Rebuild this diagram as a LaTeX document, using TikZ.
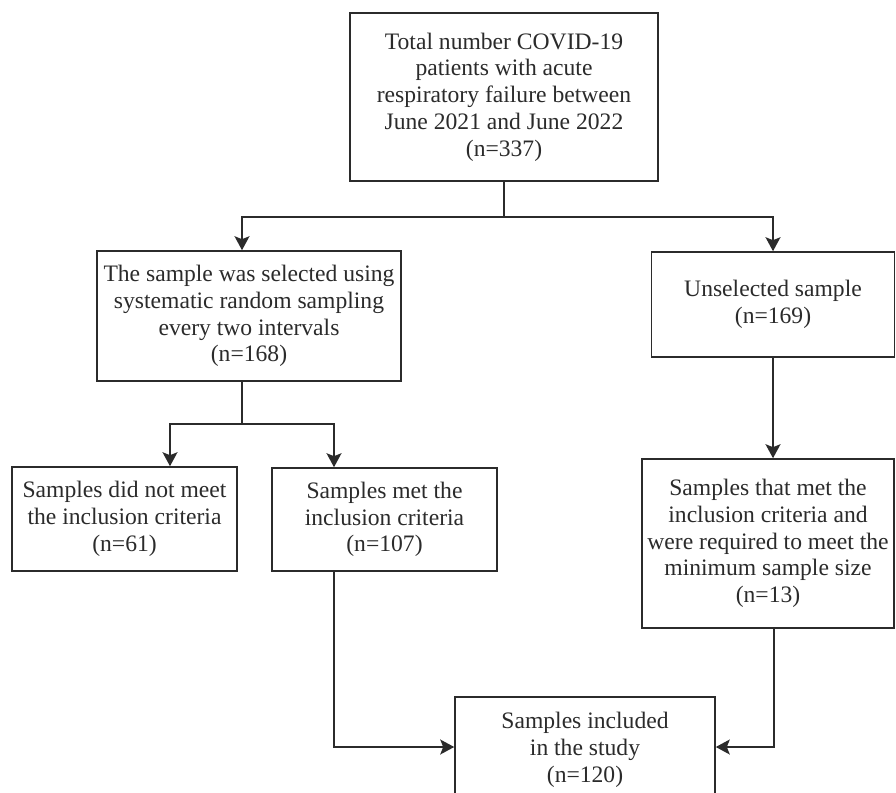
\documentclass[tikz,border=0pt]{standalone}
\usepackage{fontspec}
\setmainfont{Liberation Serif}
\usetikzlibrary{arrows.meta,calc}
\definecolor{ink}{HTML}{2B2B2B}
\begin{document}
\begin{tikzpicture}[x=1pt,y=1pt,
  box/.style={draw=ink,line width=1.6pt,fill=white,align=center,inner sep=2pt,text=ink,
    font=\fontsize{23.6}{26.8}\selectfont},
  arr/.style={draw=ink,line width=1.5pt,-{Stealth[length=14pt,width=15pt,inset=3pt]}},
  ln/.style={draw=ink,line width=1.5pt}]
\useasboundingbox (0,0) rectangle (896,-792);
\node[box,minimum width=308pt,minimum height=168pt] (top) at (504,-97)
  {Total number COVID-19\\patients with acute\\respiratory failure between\\June 2021 and June 2022\\(n=337)};
\node[box,minimum width=304pt,minimum height=130pt] (sel) at (249,-316)
  {The sample was selected using\\systematic random sampling\\every two intervals\\(n=168)};
\node[box,minimum width=243pt,minimum height=105pt] (unsel) at (773,-304.5)
  {Unselected sample\\(n=169)};
\node[box,minimum width=225pt,minimum height=104pt] (notmeet) at (124.5,-519)
  {Samples did not meet\\the inclusion criteria\\(n=61)};
\node[box,minimum width=225pt,minimum height=103pt] (met) at (384.5,-519.5)
  {Samples met the\\inclusion criteria\\(n=107)};
\node[box,minimum width=252pt,minimum height=169pt] (mins) at (768,-543.5)
  {Samples that met the\\inclusion criteria and\\were required to meet the\\minimum sample size\\(n=13)};
\node[box,minimum width=260pt,minimum height=106pt] (incl) at (585,-750)
  {Samples included\\in the study\\(n=120)};
% connectors
\coordinate (split1) at ($(top.south)+(0,-35)$);
\draw[ln] (top.south) -- (split1);
\draw[arr] (split1) -| ([xshift=-7pt]sel.north);
\draw[arr] (split1) -| (unsel.north);
\coordinate (split2) at ($([xshift=-7pt]sel.south)+(0,-42)$);
\draw[ln] ([xshift=-7pt]sel.south) -- (split2);
\draw[arr] (split2) -| ([xshift=45.5pt]notmeet.north);
\draw[arr] (split2) -| ([xshift=-50.5pt]met.north);
\draw[arr] ([xshift=-50.5pt]met.south) |- ([yshift=3pt]incl.west);
\draw[arr] (unsel.south) -- (unsel.south |- mins.north);
\draw[arr] ([xshift=6pt]mins.south) |- ([yshift=3pt]incl.east);
\end{tikzpicture}
\end{document}
